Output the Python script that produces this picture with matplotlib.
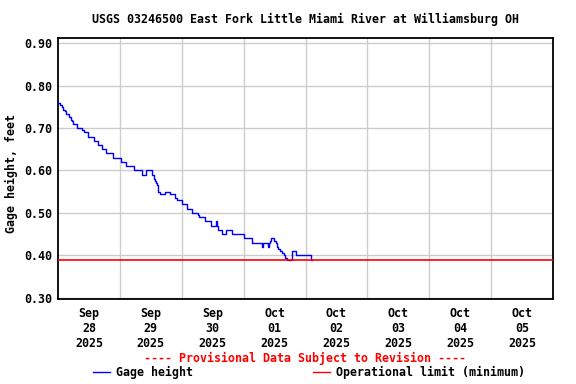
import datetime as dt
import matplotlib
matplotlib.use("Agg")
import matplotlib.pyplot as plt
from matplotlib.lines import Line2D

# gage height readings: hours after 2025-09-28 00:00, feet
hours = [0.0, 0.5, 0.9, 1.7, 2.1, 2.8, 3.2, 4.1, 4.4, 5.0, 5.3, 5.9, 7.4, 9.3, 10.0,
         11.8, 13.8, 15.4, 16.9, 18.5, 21.5, 24.3, 26.5, 29.3, 32.4, 34.2, 36.5,
         37.3, 37.6, 38.0, 38.4, 38.6, 38.9, 39.5, 41.5, 43.4, 45.4, 46.0, 48.2,
         50.1, 51.8, 54.4, 54.7, 57.0, 59.2, 61.1, 61.5, 62.2, 63.5, 65.1, 67.6,
         72.0, 75.1, 79.2, 79.6, 81.3, 81.7, 82.1, 82.6, 83.6, 84.4, 84.9, 85.5,
         86.0, 86.8, 87.5, 88.2, 88.8, 90.6, 92.3, 98.3, 98.4]
gage = [0.76, 0.758, 0.753, 0.75, 0.743, 0.74, 0.733, 0.73, 0.725, 0.72, 0.717, 0.71,
        0.70, 0.695, 0.69, 0.68, 0.67, 0.66, 0.65, 0.64, 0.63, 0.62, 0.61, 0.60,
        0.59, 0.60, 0.59, 0.58, 0.575, 0.57, 0.565, 0.56, 0.55, 0.545, 0.55,
        0.545, 0.535, 0.53, 0.52, 0.51, 0.50, 0.495, 0.49, 0.48, 0.47, 0.48,
        0.47, 0.46, 0.45, 0.46, 0.45, 0.44, 0.43, 0.42, 0.43, 0.42, 0.43, 0.435,
        0.44, 0.435, 0.43, 0.42, 0.415, 0.41, 0.405, 0.40, 0.395, 0.39, 0.41,
        0.40, 0.39, 0.39]
op_limit = 0.39

start = dt.datetime(2025, 9, 28)
end = dt.datetime(2025, 10, 6)
times = [start + dt.timedelta(hours=h) for h in hours]
day_ticks = [start + dt.timedelta(days=d, hours=12) for d in range(8)]
day_lines = [start + dt.timedelta(days=d) for d in range(1, 8)]
y_ticks = [0.30, 0.40, 0.50, 0.60, 0.70, 0.80, 0.90]

plt.rcParams["font.family"] = "DejaVu Sans Mono"
plt.rcParams["font.weight"] = "bold"

fig = plt.figure(figsize=(5.76, 3.84), dpi=100)
ax = fig.add_axes([58 / 576, 1 - 299 / 384, 495 / 576, 261 / 384])

ax.plot(times, gage, color="#0000ff", lw=1, drawstyle="steps-post", zorder=3)
ax.axhline(op_limit, color="#ff0000", lw=1.2, zorder=4)

ax.set_xlim(start, end)
ax.set_ylim(0.2976, 0.9118)
ax.set_yticks(y_ticks)
ax.set_yticklabels([f"{v:.2f}" for v in y_ticks], fontsize=8.5, fontweight="bold")
ax.set_xticks(day_ticks)
ax.set_xticklabels([d.strftime("%b\n%d\n%Y") for d in day_ticks], fontsize=8.5,
                   fontweight="bold", linespacing=1.2)
ax.set_xticks(day_lines, minor=True)
ax.tick_params(which="both", length=0)
ax.tick_params(axis="x", pad=6)
ax.tick_params(axis="y", pad=4)
ax.grid(True, which="minor", axis="x", color="#cccccc", lw=1)
ax.grid(True, which="major", axis="y", color="#cccccc", lw=1)
for s in ax.spines.values():
    s.set_linewidth(1.3)

ylab = ax.set_ylabel("Gage height, feet", fontsize=8.4, fontweight="bold")
ax.yaxis.set_label_coords(-0.081, 0.479)
title = fig.text(305.5 / 576, 1 - 19 / 384,
                 "USGS 03246500 East Fork Little Miami River at Williamsburg OH",
                 ha="center", va="center", fontsize=9, fontweight="bold")
prov = fig.text(305.5 / 576, 1 - 358 / 384, "---- Provisional Data Subject to Revision ----",
                ha="center", va="center", fontsize=8.4, fontweight="bold", color="#ff0000")

# legend row
ly = 1 - 372 / 384
fig.add_artist(Line2D([93 / 576, 110 / 576], [ly, ly], color="#0000ff", lw=1,
                      transform=fig.transFigure))
leg1 = fig.text(116 / 576, ly, "Gage height", ha="left", va="center", fontsize=8.4,
                fontweight="bold")
fig.add_artist(Line2D([313 / 576, 330 / 576], [ly, ly], color="#ff0000", lw=1,
                      transform=fig.transFigure))
leg2 = fig.text(336 / 576, ly, "Operational limit (minimum)", ha="left", va="center",
                fontsize=8.4, fontweight="bold")

# size the text to the widths measured on the reference (pixels)
fig.canvas.draw()
rend = fig.canvas.get_renderer()


def fit(t, width):
    bb = t.get_window_extent(rend)
    return t.get_fontsize() * width / bb.width


for t, w in [(title, 426), (prov, 321), (leg1, 77), (leg2, 188)]:
    t.set_fontsize(fit(t, w))
ylab.set_fontsize(ylab.get_fontsize() * 118 / ylab.get_window_extent(rend).height)
ysize = fit(ax.get_yticklabels()[0], 28)
for t in ax.get_yticklabels():
    t.set_fontsize(ysize)
for t in ax.get_xticklabels():
    t.set_fontsize(ysize)

fig.savefig("out.png", dpi=100)
